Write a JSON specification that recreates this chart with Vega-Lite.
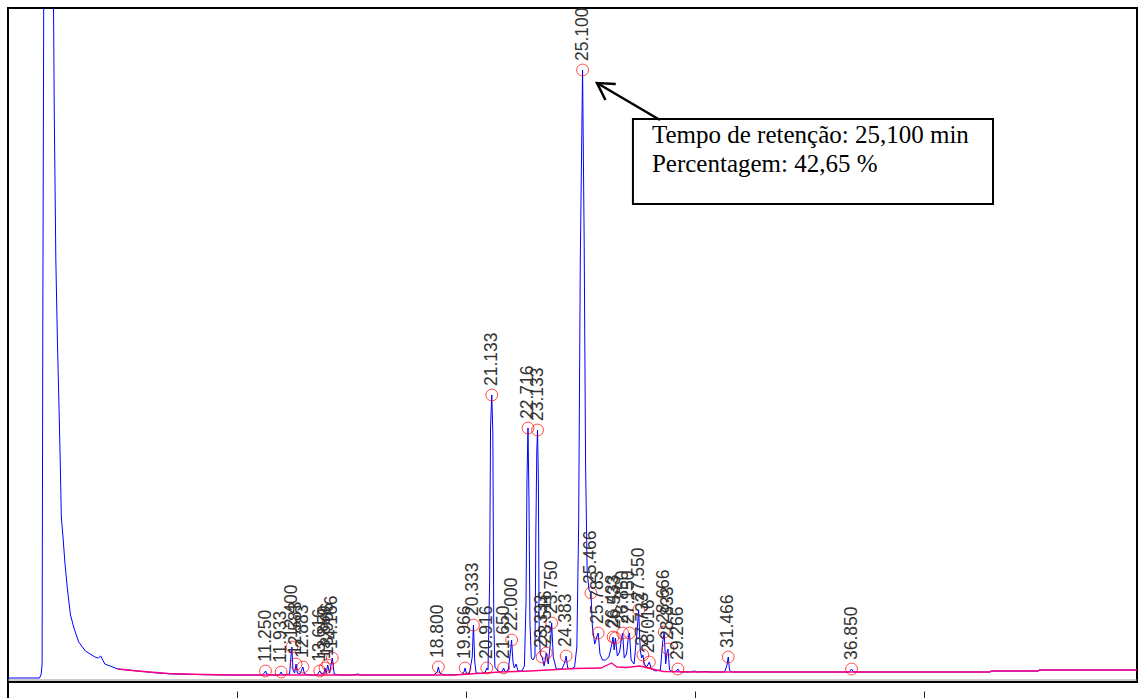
{
  "$schema": "https://vega.github.io/schema/vega-lite/v6.json",
  "width": 1129,
  "height": 674,
  "autosize": {"type": "none"},
  "padding": {"left": 8, "top": 8, "right": 1, "bottom": 16},
  "background": "white",
  "config": {"view": {"stroke": "black", "strokeWidth": 2}},
  "datasets": {
    "signal": [
      {"t":0,"v":4},{"t":1.38,"v":4},{"t":1.45,"v":8},{"t":1.49,"v":18},{"t":1.52,"v":350},{"t":1.56,"v":674},{"t":1.75,"v":3000},{"t":1.99,"v":674},{"t":2.02,"v":572},{"t":2.09,"v":422},{"t":2.16,"v":340},{"t":2.23,"v":273},{"t":2.28,"v":223},{"t":2.33,"v":165},{"t":2.41,"v":143},{"t":2.48,"v":121},{"t":2.59,"v":94},{"t":2.73,"v":67},{"t":2.88,"v":54},{"t":3.09,"v":40},{"t":3.38,"v":31},{"t":3.8,"v":25},{"t":3.95,"v":24},{"t":4.05,"v":26},{"t":4.23,"v":18},{"t":4.8,"v":13},{"t":5.66,"v":11},{"t":6.5,"v":9},{"t":7.2,"v":8},{"t":8.2,"v":7.5},{"t":9.5,"v":7},{"t":10.9,"v":7},
      {"t":11.1,"v":7},{"t":11.2,"v":9},{"t":11.25,"v":11},{"t":11.3,"v":8},{"t":11.5,"v":7},{"t":11.85,"v":7},{"t":11.933,"v":10},{"t":12.0,"v":7},{"t":12.3,"v":8},{"t":12.36,"v":25},{"t":12.4,"v":35},{"t":12.45,"v":12},{"t":12.52,"v":9},{"t":12.583,"v":18},{"t":12.64,"v":9},{"t":12.75,"v":8},{"t":12.883,"v":15},{"t":12.95,"v":8},{"t":13.2,"v":7},{"t":13.5,"v":7},{"t":13.616,"v":11},{"t":13.7,"v":8},{"t":13.8,"v":9},{"t":13.85,"v":14},{"t":13.9,"v":9},{"t":13.966,"v":17},{"t":14.05,"v":9},{"t":14.166,"v":24},{"t":14.25,"v":8},{"t":14.5,"v":7},{"t":15.0,"v":7},{"t":15.3,"v":8},{"t":15.4,"v":7},{"t":16.5,"v":7},
      {"t":18.6,"v":7},{"t":18.75,"v":10},{"t":18.8,"v":15},{"t":18.86,"v":9},{"t":18.95,"v":8},{"t":19.1,"v":7},{"t":19.8,"v":7.5},{"t":19.92,"v":10},{"t":19.966,"v":14},{"t":20.02,"v":9},{"t":20.15,"v":8},{"t":20.28,"v":25},{"t":20.333,"v":57},{"t":20.39,"v":20},{"t":20.45,"v":9},{"t":20.7,"v":8.5},{"t":20.85,"v":10},{"t":20.916,"v":14},{"t":20.97,"v":12},{"t":21.04,"v":100},{"t":21.08,"v":255},{"t":21.133,"v":287},{"t":21.18,"v":250},{"t":21.22,"v":60},{"t":21.27,"v":15},{"t":21.4,"v":11},{"t":21.5,"v":10},{"t":21.6,"v":11},{"t":21.65,"v":14},{"t":21.72,"v":10},{"t":21.85,"v":12},{"t":21.95,"v":30},{"t":22.0,"v":42},{"t":22.06,"v":20},{"t":22.12,"v":14},{"t":22.2,"v":18},{"t":22.28,"v":11},{"t":22.45,"v":11},{"t":22.56,"v":16},{"t":22.63,"v":80},{"t":22.67,"v":200},{"t":22.716,"v":254},{"t":22.76,"v":180},{"t":22.8,"v":60},{"t":22.86,"v":24},{"t":22.94,"v":22},{"t":23.02,"v":26},{"t":23.06,"v":150},{"t":23.1,"v":230},{"t":23.133,"v":252},{"t":23.17,"v":200},{"t":23.2,"v":60},{"t":23.25,"v":28},{"t":23.333,"v":25},{"t":23.42,"v":16},{"t":23.516,"v":29},{"t":23.6,"v":18},{"t":23.7,"v":40},{"t":23.75,"v":59},{"t":23.82,"v":25},{"t":23.95,"v":13},{"t":24.2,"v":13},{"t":24.33,"v":20},{"t":24.383,"v":26},{"t":24.45,"v":14},{"t":24.6,"v":13},{"t":24.75,"v":15},{"t":24.85,"v":35},{"t":24.93,"v":160},{"t":25.0,"v":420},{"t":25.1,"v":612},{"t":25.17,"v":440},{"t":25.23,"v":220},{"t":25.3,"v":110},{"t":25.38,"v":92},{"t":25.466,"v":89},{"t":25.53,"v":55},{"t":25.63,"v":38},{"t":25.72,"v":45},{"t":25.783,"v":49},{"t":25.86,"v":28},{"t":25.97,"v":22},{"t":26.1,"v":22},{"t":26.25,"v":25},{"t":26.38,"v":38},{"t":26.433,"v":45},{"t":26.48,"v":32},{"t":26.533,"v":44},{"t":26.62,"v":26},{"t":26.72,"v":30},{"t":26.79,"v":42},{"t":26.85,"v":49},{"t":26.92,"v":24},{"t":27.02,"v":28},{"t":27.1,"v":45},{"t":27.15,"v":49},{"t":27.22,"v":22},{"t":27.35,"v":18},{"t":27.48,"v":50},{"t":27.55,"v":72},{"t":27.62,"v":32},{"t":27.68,"v":24},{"t":27.733,"v":27},{"t":27.8,"v":18},{"t":27.9,"v":15},{"t":28.016,"v":20},{"t":28.1,"v":13},{"t":28.3,"v":11},{"t":28.5,"v":12},{"t":28.6,"v":40},{"t":28.666,"v":50},{"t":28.73,"v":18},{"t":28.79,"v":30},{"t":28.833,"v":33},{"t":28.9,"v":12},{"t":29.05,"v":10},{"t":29.2,"v":11},{"t":29.266,"v":13},{"t":29.35,"v":10},{"t":29.8,"v":10},{"t":30.0,"v":11},{"t":30.1,"v":10},{"t":30.5,"v":10.5},{"t":30.7,"v":10},{"t":31.3,"v":10},{"t":31.4,"v":16},{"t":31.466,"v":25},{"t":31.52,"v":12},{"t":31.6,"v":10},{"t":33.0,"v":10},{"t":34.5,"v":10},{"t":36.75,"v":10},{"t":36.85,"v":13},{"t":36.95,"v":10},{"t":42.9,"v":10},{"t":42.95,"v":11},{"t":45.0,"v":11},{"t":45.05,"v":12},{"t":49.4,"v":12}
    ],
    "baseline": [
      {"t":4.8,"v":13},{"t":5.66,"v":11},{"t":7,"v":8.5},{"t":8.5,"v":7.5},{"t":10,"v":7},{"t":19.5,"v":7},{"t":20.5,"v":8.5},{"t":21.5,"v":10},{"t":22.8,"v":11},{"t":24.77,"v":13.5},{"t":25.9,"v":14},{"t":26.37,"v":19},{"t":26.6,"v":15},{"t":27.0,"v":14.5},{"t":27.6,"v":16},{"t":28.05,"v":13.5},{"t":28.63,"v":10.5},{"t":30,"v":10},{"t":42.9,"v":10},{"t":42.95,"v":11},{"t":45,"v":11},{"t":45.05,"v":12},{"t":49.4,"v":12}
    ],
    "peaks": [
      {"t":11.25,"v":11,"label":"11.250"},{"t":11.933,"v":10,"label":"11.933"},{"t":12.4,"v":35,"label":"12.400"},{"t":12.583,"v":18,"label":"12.583"},{"t":12.883,"v":15,"label":"12.883"},{"t":13.616,"v":11,"label":"13.616"},{"t":13.85,"v":14,"label":"13.850"},{"t":13.966,"v":17,"label":"13.966"},{"t":14.166,"v":24,"label":"14.166"},{"t":18.8,"v":15,"label":"18.800"},{"t":19.966,"v":14,"label":"19.966"},{"t":20.333,"v":57,"label":"20.333"},{"t":20.916,"v":14,"label":"20.916"},{"t":21.133,"v":287,"label":"21.133"},{"t":21.65,"v":14,"label":"21.650"},{"t":22.0,"v":42,"label":"22.000"},{"t":22.716,"v":254,"label":"22.716"},{"t":23.133,"v":252,"label":"23.133"},{"t":23.333,"v":25,"label":"23.333"},{"t":23.516,"v":29,"label":"23.516"},{"t":23.75,"v":59,"label":"23.750"},{"t":24.383,"v":26,"label":"24.383"},{"t":25.1,"v":612,"label":"25.100"},{"t":25.466,"v":89,"label":"25.466"},{"t":25.783,"v":49,"label":"25.783"},{"t":26.433,"v":45,"label":"26.433"},{"t":26.533,"v":44,"label":"26.533"},{"t":26.85,"v":49,"label":"26.850"},{"t":27.15,"v":49,"label":"27.150"},{"t":27.55,"v":72,"label":"27.550"},{"t":27.733,"v":27,"label":"27.733"},{"t":28.016,"v":20,"label":"28.016"},{"t":28.666,"v":50,"label":"28.666"},{"t":28.833,"v":33,"label":"28.833"},{"t":29.266,"v":13,"label":"29.266"},{"t":31.466,"v":25,"label":"31.466"},{"t":36.85,"v":13,"label":"36.850"}
    ],
    "box": [{"t":27.3,"t2":43.03,"v":563,"v2":478}],
    "notes": [
      {"t":28.13,"v":539,"text":"Tempo de retenção: 25,100 min"},
      {"t":28.13,"v":510,"text":"Percentagem: 42,65 %"}
    ],
    "arrow": [
      {"t":28.48,"v":562,"part":"shaft","o":1},{"t":25.73,"v":599,"part":"shaft","o":2},
      {"t":26.55,"v":598,"part":"head","o":1},{"t":25.73,"v":599,"part":"head","o":2},{"t":26.1,"v":582,"part":"head","o":3}
    ],
    "edge": [{"t":0,"v":0,"v2":-16}],
    "floor": [{"t":0,"t2":49.32,"v":2}]
  },
  "encoding": {
    "x": {"field":"t","type":"quantitative","scale":{"domain":[0,49.32],"nice":false,"zero":false},
          "axis":{"orient":"bottom","offset":16,"values":[10,20,30,40],"tickSize":-7,"domain":false,"labels":false,"title":null,"grid":false,"tickColor":"#222","tickWidth":1}},
    "y": {"field":"v","type":"quantitative","scale":{"domain":[0,674],"nice":false,"zero":false},"axis":null}
  },
  "layer": [
    {"data":{"name":"floor"},"mark":{"type":"rule","color":"#999999","strokeWidth":1},"encoding":{"x2":{"field":"t2"}}},
    {"data":{"name":"signal"},"mark":{"type":"line","clip":true,"color":"#0000ff","strokeWidth":1,"interpolate":"linear"},"encoding":{"order":{"field":"t"}}},
    {"data":{"name":"baseline"},"mark":{"type":"line","clip":true,"color":"#ff0080","strokeWidth":1.3},"encoding":{"order":{"field":"t"}}},
    {"data":{"name":"peaks"},"mark":{"type":"point","shape":"circle","filled":false,"stroke":"#ff0000","strokeWidth":1,"size":140}},
    {"data":{"name":"peaks"},"mark":{"type":"text","font":"Liberation Sans","fontSize":17.5,"angle":270,"align":"left","baseline":"middle","dx":9,"color":"#333333"},"encoding":{"text":{"field":"label"}}},
    {"data":{"name":"box"},"mark":{"type":"rect","fill":"white","stroke":"black","strokeWidth":2},"encoding":{"x2":{"field":"t2"},"y2":{"field":"v2"}}},
    {"data":{"name":"notes"},"mark":{"type":"text","font":"Liberation Serif","fontSize":25,"align":"left","baseline":"alphabetic","color":"black"},"encoding":{"text":{"field":"text"}}},
    {"data":{"name":"arrow"},"mark":{"type":"line","color":"black","strokeWidth":2.5},"encoding":{"detail":{"field":"part"},"order":{"field":"o"}}},
    {"data":{"name":"edge"},"mark":{"type":"rule","color":"black","strokeWidth":2},"encoding":{"y2":{"field":"v2"}}}
  ]
}
